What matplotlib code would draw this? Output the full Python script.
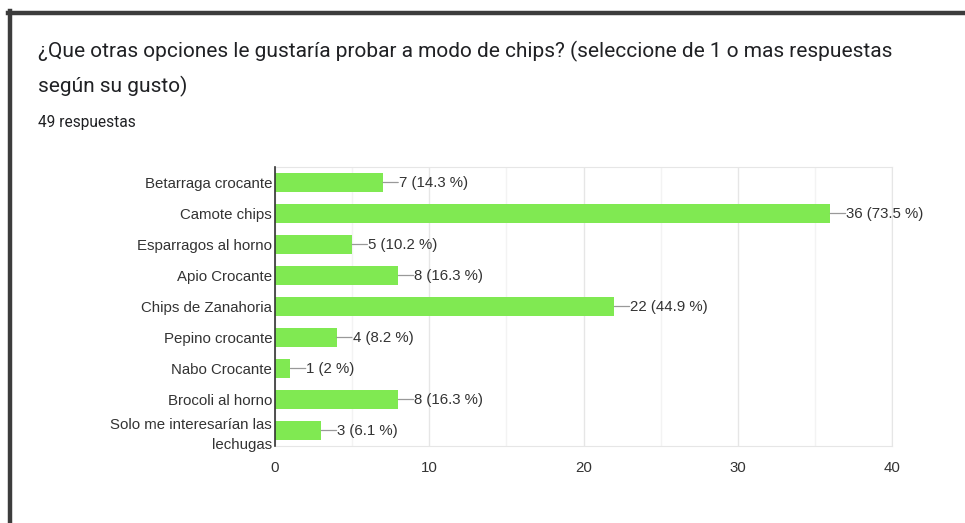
import matplotlib

matplotlib.use("Agg")
import matplotlib.pyplot as plt
from matplotlib.ticker import MultipleLocator

# Survey data
categories = [
    "Betarraga crocante",
    "Camote chips",
    "Esparragos al horno",
    "Apio Crocante",
    "Chips de Zanahoria",
    "Pepino crocante",
    "Nabo Crocante",
    "Brocoli al horno",
    "Solo me interesarían las\nlechugas",
]
counts = [7, 36, 5, 8, 22, 4, 1, 8, 3]
percents = ["14.3", "73.5", "10.2", "16.3", "44.9", "8.2", "2", "16.3", "6.1"]
x_ticks = [0, 10, 20, 30, 40]
total_responses = 49

_BAR_COLOR = "#80e952"
_TEXT_COLOR = "#202124"
_LABEL_COLOR = "#333333"
_GRID_MAJOR = "#e6e6e6"
_GRID_MINOR = "#f3f3f3"
_LEADER_COLOR = "#999999"
_FRAME_COLOR = "#3c3c3c"

fig = plt.figure(figsize=(9.65, 5.23), dpi=100)
fig.patch.set_facecolor("white")

# dark frame on top and left, like the screenshot of the card
fig.add_artist(plt.Line2D([8 / 965, 1.0], [1 - 12.5 / 523] * 2, color=_FRAME_COLOR, lw=3.2))
fig.add_artist(plt.Line2D([10 / 965] * 2, [0, 1 - 11 / 523], color=_FRAME_COLOR, lw=3.2))

fig.text(38 / 965, 1 - 51 / 523,
         "¿Que otras opciones le gustaría probar a modo de chips? (seleccione de 1 o mas respuestas",
         fontsize=15.0, family="Roboto", color=_TEXT_COLOR, va="center")
fig.text(38 / 965, 1 - 86 / 523, "según su gusto)",
         fontsize=15.0, family="Roboto", color=_TEXT_COLOR, va="center")
fig.text(38 / 965, 1 - 123 / 523, f"{total_responses} respuestas",
         fontsize=11.2, family="Roboto", color=_TEXT_COLOR, va="center")

ax = fig.add_axes([275 / 965, 1 - 446 / 523, (892 - 275) / 965, (446 - 167) / 523])
y = list(range(len(categories)))
ax.barh(y, counts, height=0.62, color=_BAR_COLOR, zorder=3)

for yi, c, p in zip(y, counts, percents):
    ax.annotate("", xy=(c, yi), xytext=(11, 0), textcoords="offset points",
                arrowprops=dict(arrowstyle="-", color=_LEADER_COLOR, lw=0.9,
                                shrinkA=0, shrinkB=0))
    ax.annotate(f"{c} ({p} %)", xy=(c, yi), xytext=(11.5, -0.5), textcoords="offset points",
                va="center", ha="left", fontsize=10.8, family="Liberation Sans",
                color=_LABEL_COLOR)

ax.set_xlim(0, 40)
ax.set_ylim(len(categories) - 0.5, -0.5)
ax.set_yticks(y)
ax.set_yticklabels(categories, fontsize=10.8, family="Liberation Sans", color=_LABEL_COLOR,
                   linespacing=1.55)
ax.set_xticks(x_ticks)
ax.set_xticklabels([str(t) for t in x_ticks], fontsize=10.8, family="Liberation Sans",
                   color=_LABEL_COLOR)
ax.xaxis.set_minor_locator(MultipleLocator(5))
ax.tick_params(axis="both", which="both", length=0)
ax.tick_params(axis="y", pad=2)
ax.tick_params(axis="x", pad=11)
ax.grid(axis="x", which="major", color=_GRID_MAJOR, lw=1, zorder=0)
ax.grid(axis="x", which="minor", color=_GRID_MINOR, lw=1, zorder=0)

for side in ("top", "right", "bottom"):
    ax.spines[side].set_color(_GRID_MAJOR)
ax.spines["left"].set_color("#333333")
ax.spines["left"].set_linewidth(1.2)
ax.spines["left"].set_zorder(4)

fig.savefig("out.png", dpi=100, facecolor="white")
